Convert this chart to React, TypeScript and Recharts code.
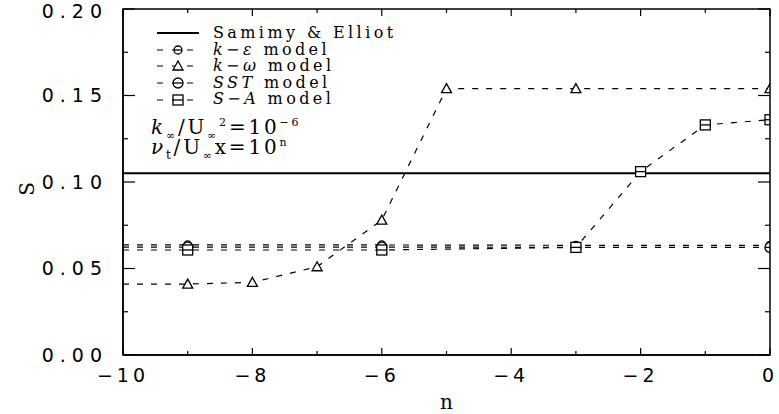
import React from "react";
import { LineChart, Line, XAxis, YAxis, Label } from "recharts";

// axis ticks
const nMajor = [-10, -8, -6, -4, -2, 0];
const nMinor = [-9, -7, -5, -3, -1];
const sMajor = [0, 0.05, 0.1, 0.15, 0.2];
const sMinor = [0.025, 0.075, 0.125, 0.175];

// series
const samimyElliot = [
  { n: -10, S: 0.105 },
  { n: 0, S: 0.105 },
];
const kEpsilon = [
  { n: -10, S: 0.0636 },
  { n: -9, S: 0.0636 },
  { n: -6, S: 0.0636 },
  { n: -3, S: 0.0634 },
  { n: 0, S: 0.0634 },
];
const kOmega = [
  { n: -10, S: 0.041 },
  { n: -9, S: 0.041 },
  { n: -8, S: 0.042 },
  { n: -7, S: 0.051 },
  { n: -6, S: 0.078 },
  { n: -5, S: 0.154 },
  { n: -3, S: 0.154 },
  { n: 0, S: 0.154 },
];
const sst = [
  { n: -10, S: 0.0624 },
  { n: -9, S: 0.0624 },
  { n: -6, S: 0.0624 },
  { n: -3, S: 0.0622 },
  { n: 0, S: 0.0622 },
];
const spalartAllmaras = [
  { n: -10, S: 0.0607 },
  { n: -9, S: 0.0607 },
  { n: -6, S: 0.0607 },
  { n: -3, S: 0.0622 },
  { n: -2, S: 0.106 },
  { n: -1, S: 0.133 },
  { n: 0, S: 0.136 },
];

const N_MIN = -10;
const N_MAX = 0;
const S_MIN = 0;
const S_MAX = 0.2;

const W = 779;
const H = 414;
const margin = { top: 9, right: 9, bottom: 58, left: 122 };
const AXIS_SIZE = 1;
// plot box, as recharts lays it out from the margins above
const box = {
  left: margin.left + AXIS_SIZE,
  right: W - margin.right,
  top: margin.top,
  bottom: H - margin.bottom - AXIS_SIZE,
};

type MarkerKind = "none" | "circle" | "circleBig" | "triangle" | "square";

function Marker({ kind, cx, cy }: { kind: MarkerKind; cx: number; cy: number }) {
  const s = { stroke: "#000", strokeWidth: 1.3, fill: "#fff" };
  if (kind === "circle")
    return (
      <g>
        <circle cx={cx} cy={cy} r={4} {...s} />
        <line x1={cx - 4} x2={cx + 4} y1={cy} y2={cy} stroke="#000" strokeWidth={1.3} />
      </g>
    );
  if (kind === "circleBig")
    return (
      <g>
        <circle cx={cx} cy={cy} r={5} {...s} />
        <line x1={cx - 5} x2={cx + 5} y1={cy} y2={cy} stroke="#000" strokeWidth={1.3} />
      </g>
    );
  if (kind === "triangle")
    return (
      <polygon
        points={`${cx},${cy - 5} ${cx + 5},${cy + 4} ${cx - 5},${cy + 4}`}
        {...s}
      />
    );
  if (kind === "square")
    return (
      <g>
        <rect x={cx - 5} y={cy - 5} width={10} height={10} {...s} />
        <line x1={cx - 5} x2={cx + 5} y1={cy} y2={cy} stroke="#000" strokeWidth={1.3} />
      </g>
    );
  return null;
}

const series = [
  { name: "Samimy & Elliot", data: samimyElliot, marker: "none" as MarkerKind, dashed: false },
  { name: "k−ε", data: kEpsilon, marker: "circle" as MarkerKind, dashed: true },
  { name: "k−ω", data: kOmega, marker: "triangle" as MarkerKind, dashed: true },
  { name: "SST", data: sst, marker: "circleBig" as MarkerKind, dashed: true },
  { name: "S−A", data: spalartAllmaras, marker: "square" as MarkerKind, dashed: true },
];

const yTickStyle = { fill: "#000", fontFamily: "DejaVu Sans", fontSize: 19, letterSpacing: 6 };
const xTickStyle = { fill: "#000", fontFamily: "DejaVu Sans", fontSize: 19, letterSpacing: 4 };

const legendFont = {
  fontFamily: "DejaVu Serif",
  fontSize: 16,
  letterSpacing: 3.4,
};

function LegendBox() {
  return (
    <div style={{ position: "absolute", left: 155, top: 25, ...legendFont, lineHeight: "16.6px" }}>
      {series.map((s, i) => (
        <div key={s.name} style={{ display: "flex", alignItems: "center", height: 16.6 }}>
          <svg width={46} height={16}>
            <line
              x1={2}
              x2={44}
              y1={8}
              y2={8}
              stroke="#000"
              strokeWidth={s.dashed ? 1.2 : 1.8}
              strokeDasharray={s.dashed ? "6 9" : undefined}
            />
            <Marker kind={s.marker} cx={23} cy={8} />
          </svg>
          <span style={{ marginLeft: 12 }}>
            {i === 0 ? (
              s.name
            ) : (
              <>
                <i>{s.name}</i> model
              </>
            )}
          </span>
        </div>
      ))}
      <div style={{ marginTop: 9, marginLeft: -4, fontSize: 20, letterSpacing: 2.8, lineHeight: "20px" }}>
        <i>k</i>
        <sub style={{ fontSize: 11, lineHeight: 0 }}>∞</sub>/U<sub style={{ fontSize: 11, lineHeight: 0 }}>∞</sub>
        <sup style={{ fontSize: 11, lineHeight: 0 }}>2</sup>=10<sup style={{ fontSize: 11, lineHeight: 0 }}>−6</sup>
      </div>
      <div style={{ marginTop: 0, marginLeft: -4, fontSize: 20, letterSpacing: 2.8, lineHeight: "20px" }}>
        <i>ν</i>
        <sub style={{ fontSize: 12, lineHeight: 0 }}>t</sub>/U<sub style={{ fontSize: 11, lineHeight: 0 }}>∞</sub>x=10
        <sup style={{ fontSize: 11, lineHeight: 0 }}>n</sup>
      </div>
    </div>
  );
}

// closed frame with inward ticks on all four sides
function Frame() {
  const px = (n: number) => box.left + ((n - N_MIN) / (N_MAX - N_MIN)) * (box.right - box.left);
  const py = (s: number) => box.bottom - ((s - S_MIN) / (S_MAX - S_MIN)) * (box.bottom - box.top);
  const xt = [...nMajor.map((v) => [v, 7]), ...nMinor.map((v) => [v, 4])];
  const yt = [...sMajor.map((v) => [v, 12]), ...sMinor.map((v) => [v, 5])];
  return (
    <svg width={W} height={H} style={{ position: "absolute", left: 0, top: 0, pointerEvents: "none" }}>
      <rect
        x={box.left}
        y={box.top}
        width={box.right - box.left}
        height={box.bottom - box.top}
        fill="none"
        stroke="#000"
        strokeWidth={1.5}
      />
      {xt.map(([v, len]) => (
        <g key={`x${v}`} stroke="#000" strokeWidth={1.2}>
          <line x1={px(v)} x2={px(v)} y1={box.bottom} y2={box.bottom - len} />
          <line x1={px(v)} x2={px(v)} y1={box.top} y2={box.top + len} />
        </g>
      ))}
      {yt.map(([v, len]) => (
        <g key={`y${v}`} stroke="#000" strokeWidth={1.2}>
          <line x1={box.left} x2={box.left + len} y1={py(v)} y2={py(v)} />
          <line x1={box.right} x2={box.right - len} y1={py(v)} y2={py(v)} />
        </g>
      ))}
    </svg>
  );
}

const fmtN = (v: number) => (v < 0 ? `−${Math.abs(v)}` : `${v}`);

export default function App() {
  return (
    <div style={{ position: "absolute", left: 0, top: 0, width: W, height: H, background: "#fff" }}>
      <LineChart width={W} height={H} margin={margin}>
        <XAxis
          xAxisId="x"
          type="number"
          dataKey="n"
          domain={[N_MIN, N_MAX]}
          ticks={nMajor}
          height={AXIS_SIZE}
          tickLine={false}
          axisLine={{ stroke: "#000", strokeWidth: 1.5 }}
          tick={xTickStyle}
          tickMargin={8}
          tickFormatter={fmtN}
          allowDataOverflow
        >
          <Label value="n" position="bottom" offset={39} style={{ fill: "#000", fontFamily: "DejaVu Serif", fontSize: 20 }} />
        </XAxis>
        <YAxis
          yAxisId="y"
          type="number"
          domain={[S_MIN, S_MAX]}
          ticks={sMajor}
          width={AXIS_SIZE}
          tickLine={false}
          axisLine={{ stroke: "#000", strokeWidth: 1.5 }}
          tick={yTickStyle}
          tickMargin={9}
          tickFormatter={(v: number) => v.toFixed(2)}
          allowDataOverflow
        >
          <Label value="S" position="left" offset={95} angle={-90} style={{ fill: "#000", fontFamily: "DejaVu Serif", fontSize: 20 }} />
        </YAxis>

        {series.map((s) => (
          <Line
            key={s.name}
            xAxisId="x"
            yAxisId="y"
            data={s.data}
            dataKey="S"
            type="linear"
            stroke="#000"
            strokeWidth={s.dashed ? 1.2 : 2}
            strokeDasharray={s.dashed ? "6 8" : undefined}
            isAnimationActive={false}
            dot={(p: any) => (
              <g key={`${s.name}-${p.index}`}>
                {p.payload.n > N_MIN && <Marker kind={s.marker} cx={p.cx} cy={p.cy} />}
              </g>
            )}
            activeDot={false}
          />
        ))}
      </LineChart>
      <Frame />
      <LegendBox />
    </div>
  );
}
